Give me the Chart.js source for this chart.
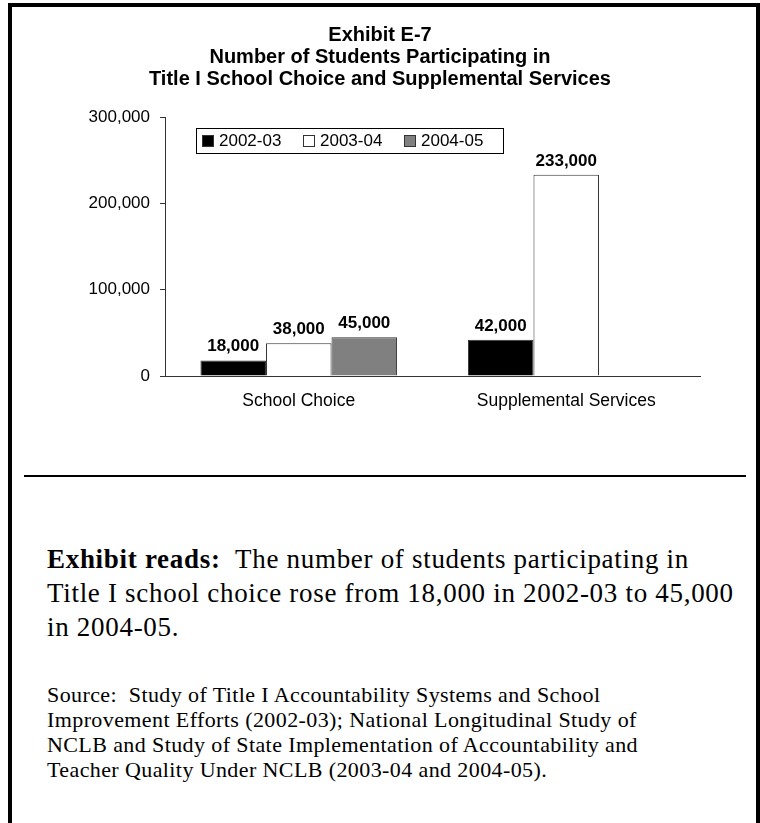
<!DOCTYPE html>
<html>
<head>
<meta charset="utf-8">
<script src="https://cdn.jsdelivr.net/npm/chart.js@4.4.1/dist/chart.umd.min.js"></script>
<style>
body { margin: 0; background: #fff; width: 760px; height: 823px; overflow: hidden; position: relative; }
#moldura { position: absolute; left: 8px; top: 3px; width: 744px; height: 840px; border: 4px solid #000; border-bottom: none; }
#chartJS { position: absolute; left: 0; top: 0; }
#regua { position: absolute; left: 24px; top: 475px; width: 722px; height: 2px; background: #000; }
.texto { position: absolute; left: 47px; margin: 0; font-family: 'Liberation Serif', 'Times New Roman', serif; color: #000; white-space: nowrap; }
#leitura { top: 542px; font-size: 27px; line-height: 34px; letter-spacing: 0.7px; }
#fonte { top: 682px; font-size: 22px; line-height: 25px; letter-spacing: 0.4px; }
</style>
</head>
<body>
<div id="moldura"></div>
<canvas id="chartJS" width="760" height="440"></canvas>
<div id="regua"></div>
<p class="texto" id="leitura"><b>Exhibit reads:</b>&nbsp; The number of students participating in<br>Title I school choice rose from 18,000 in 2002-03 to 45,000<br>in 2004-05.</p>
<p class="texto" id="fonte">Source:&nbsp; Study of Title I Accountability Systems and School<br>Improvement Efforts (2002-03); National Longitudinal Study of<br>NCLB and Study of State Implementation of Accountability and<br>Teacher Quality Under NCLB (2003-04 and 2004-05).</p>

<script>
// dados do gráfico
const categorias = ['School Choice', 'Supplemental Services']
const anos = ['2002-03', '2003-04', '2004-05']
const valores2002 = [18000, 42000]
const valores2003 = [38000, 233000]
const valores2004 = [45000, null]
const ticksY = [0, 100000, 200000, 300000]
const cores = ['#000000', '#ffffff', '#808080']

const titulo = [
    'Exhibit E-7',
    'Number of Students Participating in',
    'Title I School Choice and Supplemental Services'
]

const fonteArial = '"Liberation Sans", Arial, sans-serif'
Chart.defaults.font.family = fonteArial
Chart.defaults.color = '#000'

// legenda dentro da área do gráfico (caixa com borda)
const legendaCaixa = {
    id: 'legendaCaixa',
    afterDatasetsDraw(chart) {
        const { ctx, chartArea } = chart
        const x0 = chartArea.left + 31
        const y0 = chartArea.top + 11
        ctx.save()
        ctx.fillStyle = '#fff'
        ctx.fillRect(x0, y0, 307, 25)
        ctx.strokeStyle = '#000'
        ctx.lineWidth = 1
        ctx.strokeRect(x0 + 0.5, y0 + 0.5, 307, 25)
        ctx.font = '17px ' + fonteArial
        ctx.textBaseline = 'middle'
        chart.data.datasets.forEach((ds, i) => {
            const xi = x0 + 6 + i * 101
            ctx.fillStyle = ds.backgroundColor
            ctx.fillRect(xi, y0 + 7, 11, 11)
            ctx.strokeStyle = '#333'
            ctx.strokeRect(xi + 0.5, y0 + 7.5, 11, 11)
            ctx.fillStyle = '#000'
            ctx.fillText(ds.label, xi + 17, y0 + 13.5)
        })
        ctx.restore()
    }
}

// valores em cima das barras
const rotulos = {
    id: 'rotulos',
    afterDatasetsDraw(chart) {
        const ctx = chart.ctx
        ctx.save()
        ctx.font = 'bold 17px ' + fonteArial
        ctx.fillStyle = '#000'
        ctx.textAlign = 'center'
        ctx.textBaseline = 'alphabetic'
        chart.data.datasets.forEach((ds, i) => {
            chart.getDatasetMeta(i).data.forEach((barra, j) => {
                const v = ds.data[j]
                if (v == null) return
                ctx.fillText(v.toLocaleString('en-US'), barra.x, barra.y - 9)
            })
        })
        ctx.restore()
    }
}

const series = [valores2002, valores2003, valores2004]

const data = {
    labels: categorias,
    datasets: series.map((valores, i) => ({
        label: anos[i],
        data: valores,
        backgroundColor: cores[i],
        borderColor: '#333',
        borderWidth: 1,
        categoryPercentage: 0.735,
        barPercentage: 1.0,
    }))
}

const config = {
    type: 'bar',
    data: data,
    options: {
        responsive: false,
        animation: false,
        locale: 'en-US',
        layout: { padding: { left: 60, right: 60, top: 0, bottom: 0 } },
        plugins: {
            legend: { display: false },
            tooltip: { enabled: false },
            title: {
                display: true,
                text: titulo,
                color: '#000',
                font: { size: 20, weight: 'bold', lineHeight: '22px' },
                padding: { top: 24, bottom: 27 },
            },
        },
        scales: {
            x: {
                grid: { display: false, drawTicks: false },
                border: { display: true, color: '#333', width: 1 },
                ticks: {
                    padding: 15,
                    color: '#000',
                    font: { size: 17.5 },
                },
                afterFit: (s) => { s.height = 64 },
            },
            y: {
                min: 0,
                max: 300000,
                grid: { drawOnChartArea: false, color: '#333', tickLength: 5 },
                border: { display: true, color: '#333', width: 1 },
                ticks: {
                    padding: 10,
                    color: '#000',
                    font: { size: 17 },
                    callback: (v) => v.toLocaleString('en-US'),
                },
                afterBuildTicks: (s) => { s.ticks = ticksY.map(v => ({ value: v })) },
                afterFit: (s) => { s.width = 105 },
            },
        },
    },
    plugins: [legendaCaixa, rotulos],
}

const chart = new Chart(document.getElementById('chartJS'), config)
</script>
</body>
</html>
